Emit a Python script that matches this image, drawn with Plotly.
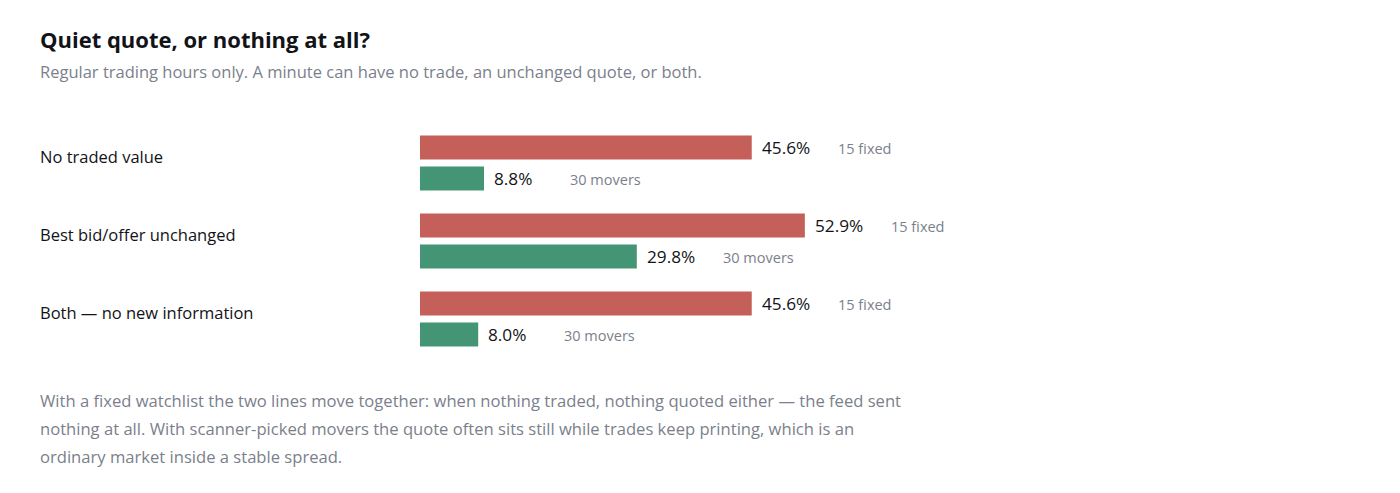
import plotly.graph_objects as go

categories = ["No traded value", "Best bid/offer unchanged", "Both — no new information"]
fixed_values = [45.6, 52.9, 45.6]
mover_values = [8.8, 29.8, 8.0]
fixed_label = "15 fixed"
mover_label = "30 movers"

TITLE = "Quiet quote, or nothing at all?"
SUBTITLE = "Regular trading hours only. A minute can have no trade, an unchanged quote, or both."
NOTE_LINES = [
    "With a fixed watchlist the two lines move together: when nothing traded, nothing quoted either — the feed sent",
    "nothing at all. With scanner-picked movers the quote often sits still while trades keep printing, which is an",
    "ordinary market inside a stable spread.",
]

RED = "#c45f5a"
GREEN = "#449575"
DARK = "#111317"
GRAY = "#7b7f8b"
FONT = "Open Sans, Noto Sans, sans-serif"

OFF = 8  # page offset of the figure
FW, FH = 1400, 493
ML, MR, MT, MB = 412, 406, 116, 143
W = FW - ML - MR
H = FH - MT - MB


def px(xp):
    return (xp - OFF - ML) / W


def py(yp):
    return (FH - MB - (yp - OFF)) / H


fig = go.Figure()
fig.add_trace(go.Bar(y=categories, x=fixed_values, orientation="h", marker=dict(color=RED, line_width=0),
                     name=fixed_label, hoverinfo="skip"))
fig.add_trace(go.Bar(y=categories, x=mover_values, orientation="h", marker=dict(color=GREEN, line_width=0),
                     name=mover_label, hoverinfo="skip"))

LX = 38
ann = []
for cat, fv, mv in zip(categories, fixed_values, mover_values):
    ann.append(dict(x=px(LX), xref="paper", y=cat, yref="y", yshift=7, text=cat, showarrow=False,
                    xanchor="left", yanchor="middle", font=dict(size=16.5, color=DARK, family=FONT)))
    for v, lab, ys in ((fv, fixed_label, 15.5), (mv, mover_label, -15.5)):
        ann.append(dict(x=v, xref="x", y=cat, yref="y", yshift=ys, xshift=8, text=f"{v:.1f}%", showarrow=False,
                        xanchor="left", yanchor="middle",
                        font=dict(size=17.2, color=DARK, family=FONT, weight=500)))
        ann.append(dict(x=v, xref="x", y=cat, yref="y", yshift=ys - 1, xshift=84, text=lab, showarrow=False,
                        xanchor="left", yanchor="middle", font=dict(size=14.5, color=GRAY, family=FONT)))

ann.append(dict(x=px(LX), xref="paper", y=py(39), yref="paper", text=f"<b>{TITLE}</b>", showarrow=False,
                xanchor="left", yanchor="middle", font=dict(size=22, color=DARK, family=FONT)))
ann.append(dict(x=px(LX), xref="paper", y=py(72), yref="paper", text=SUBTITLE, showarrow=False,
                xanchor="left", yanchor="middle", font=dict(size=16.5, color=GRAY, family=FONT)))
for i, line in enumerate(NOTE_LINES):
    ann.append(dict(x=px(LX), xref="paper", y=py(400 + 28 * i), yref="paper", text=line, showarrow=False,
                    align="left", xanchor="left", yanchor="middle",
                    font=dict(size=16.6, color=GRAY, family=FONT)))

fig.update_layout(
    width=FW, height=FH,
    margin=dict(l=ML, r=MR, t=MT, b=MB),
    paper_bgcolor="white", plot_bgcolor="white",
    showlegend=False,
    barmode="group", bargap=0.205, bargroupgap=0.226,
    xaxis=dict(range=[0, 80], visible=False, fixedrange=True),
    yaxis=dict(type="category", autorange="reversed", visible=False, fixedrange=True),
    font=dict(family=FONT),
    annotations=ann,
)
fig.write_html("out.html", config=dict(displayModeBar=False))
